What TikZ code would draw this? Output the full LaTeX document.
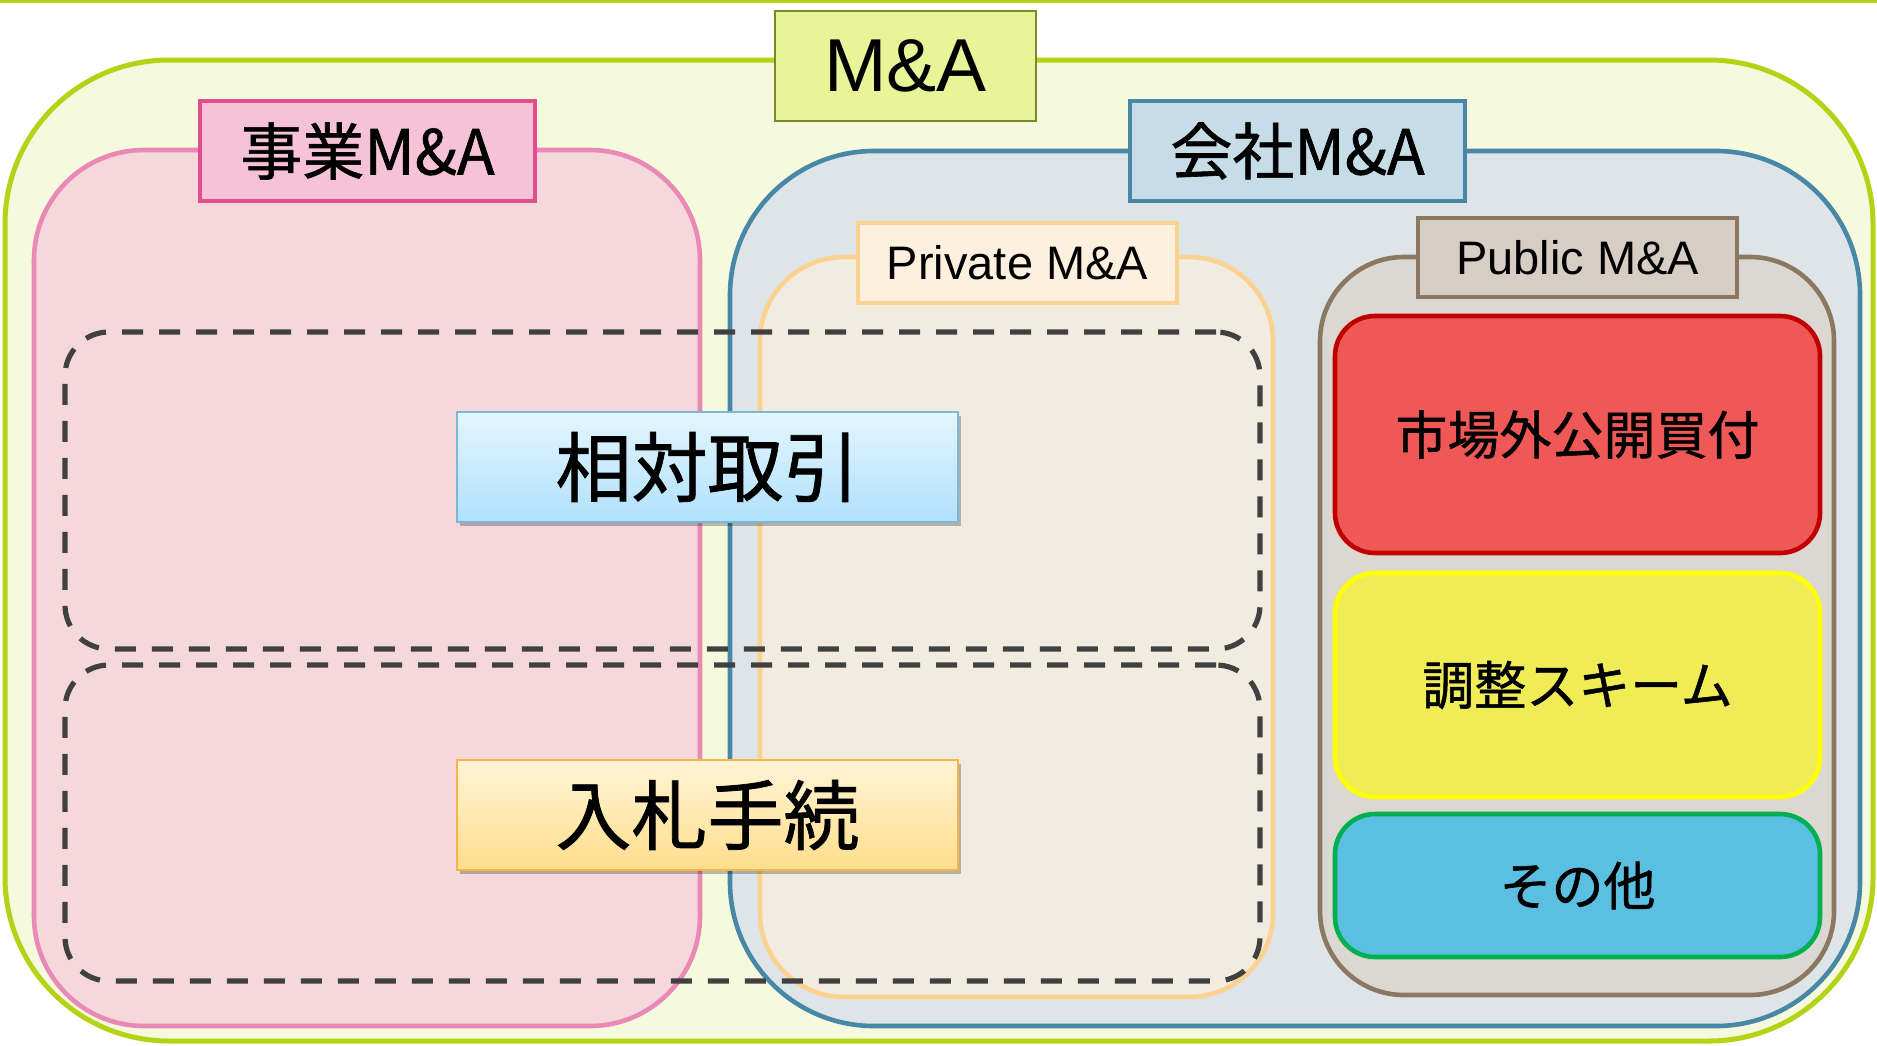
\documentclass[tikz,border=0pt]{standalone}
\usepackage{fontspec}
\setmainfont{Liberation Sans}
\newfontfamily\jp[FakeBold=1]{Noto Sans CJK JP}
\usetikzlibrary{shadows}
\definecolor{outerline}{RGB}{181,211,22}
\definecolor{outerfill}{RGB}{245,249,222}
\definecolor{malabelfill}{RGB}{231,245,152}
\definecolor{malabelline}{RGB}{118,140,40}
\definecolor{pinkfill}{RGB}{244,216,219}
\definecolor{pinkline}{RGB}{234,136,182}
\definecolor{pinklabelfill}{RGB}{245,194,216}
\definecolor{pinklabelline}{RGB}{224,78,140}
\definecolor{bluefill}{RGB}{222,229,232}
\definecolor{blueline}{RGB}{72,136,166}
\definecolor{bluelabelfill}{RGB}{198,221,231}
\definecolor{privfill}{RGB}{241,235,224}
\definecolor{privline}{RGB}{252,210,145}
\definecolor{privlabelfill}{RGB}{254,240,222}
\definecolor{pubfill}{RGB}{219,215,209}
\definecolor{publine}{RGB}{140,120,96}
\definecolor{publabelfill}{RGB}{214,206,196}
\definecolor{redfill}{RGB}{240,88,88}
\definecolor{redline}{RGB}{192,0,0}
\definecolor{yelfill}{RGB}{240,236,85}
\definecolor{yelline}{RGB}{255,255,0}
\definecolor{cyanfill}{RGB}{91,191,225}
\definecolor{greenline}{RGB}{0,176,80}
\definecolor{dashcol}{RGB}{64,64,64}
\definecolor{skytop}{RGB}{228,246,254}
\definecolor{skybot}{RGB}{176,224,251}
\definecolor{skyline}{RGB}{122,184,216}
\definecolor{goldtop}{RGB}{255,244,214}
\definecolor{goldbot}{RGB}{255,222,140}
\definecolor{goldline}{RGB}{247,181,72}
\begin{document}
\begin{tikzpicture}[x=0.5pt,y=-0.5pt,
  sz/.style 2 args={minimum width=#1*0.5pt, minimum height=#2*0.5pt, inner sep=0pt, outer sep=0pt},
  container/.style={draw, line width=2.3pt},
  labelbox/.style={draw, line width=1.7pt},
  colorbox/.style={draw, line width=2.3pt, rounded corners=20pt, sz={485}{#1},
    font=\jp\fontsize{26pt}{28pt}\selectfont},
  dashbox/.style={draw=dashcol, line width=2.6pt, dash pattern=on 10.5pt off 8pt,
    rounded corners=22pt, sz={1195}{#1}},
  keybox/.style={draw, line width=1.2pt, sz={501}{110},
    font=\jp\fontsize{38pt}{40pt}\selectfont,
    drop shadow={shadow xshift=1.5pt, shadow yshift=-2pt, fill=black, opacity=0.25}},
  jptitle/.style={font=\jp\fontsize{31pt}{33pt}\selectfont},
  entitle/.style={font=\fontsize{23.5pt}{25pt}\selectfont}]
\useasboundingbox (0,0) rectangle (1877,1045);
\fill[outerline] (0,0) rectangle (1877,3);
% outer M&A container
\node[container, line width=2.5pt, draw=outerline, fill=outerfill, rounded corners=82pt, sz={1868}{981}] (outer) at (939,550.5) {};
% business M&A container
\node[container, draw=pinkline, fill=pinkfill, rounded corners=55pt, sz={666}{876}] (biz) at (367,588) {};
% company M&A container
\node[container, draw=blueline, fill=bluefill, rounded corners=72pt, sz={1130}{875}] (corp) at (1295,588.5) {};
% private M&A container
\node[container, draw=privline, fill=privfill, rounded corners=42pt, sz={513}{740}] (priv) at (1016.5,627) {};
% public M&A container
\node[container, draw=publine, fill=pubfill, rounded corners=42pt, sz={514}{738}] (pub) at (1577,626) {};
% dashed groups
\node[dashbox={317}] (negbox) at (662.5,490.5) {};
\node[dashbox={316}] (bidbox) at (662.5,823) {};
% labels
\node[labelbox, line width=1.2pt, draw=malabelline, fill=malabelfill, sz={261}{110},
  font=\fontsize{37.5pt}{40pt}\selectfont] (malabel) at (905.5,66) {M\&A};
\node[labelbox, draw=pinklabelline, fill=pinklabelfill, sz={335}{100}, jptitle] (bizlabel) at (367.5,151) {事業M\&A};
\node[labelbox, draw=blueline, fill=bluelabelfill, sz={335}{100}, jptitle] (corplabel) at (1297.5,151) {会社M\&A};
\node[labelbox, draw=privline, fill=privlabelfill, sz={319}{80}, entitle] (privlabel) at (1017.5,263) {Private M\&A};
\node[labelbox, draw=publine, fill=publabelfill, sz={319}{79}, entitle] (publabel) at (1577.5,257.5) {Public M\&A};
% public M&A items
\node[colorbox={237}, draw=redline, fill=redfill] (tob) at (1577.5,434.5) {市場外公開買付};
\node[colorbox={224}, draw=yelline, fill=yelfill] (scheme) at (1577.5,685) {調整スキーム};
\node[colorbox={143}, draw=greenline, fill=cyanfill] (other) at (1577.5,885.5) {その他};
% key boxes
\node[keybox, draw=skyline, top color=skytop, bottom color=skybot] (neg) at (707.5,467) {相対取引};
\node[keybox, draw=goldline, top color=goldtop, bottom color=goldbot] (bid) at (707.5,815) {入札手続};
\end{tikzpicture}
\end{document}
